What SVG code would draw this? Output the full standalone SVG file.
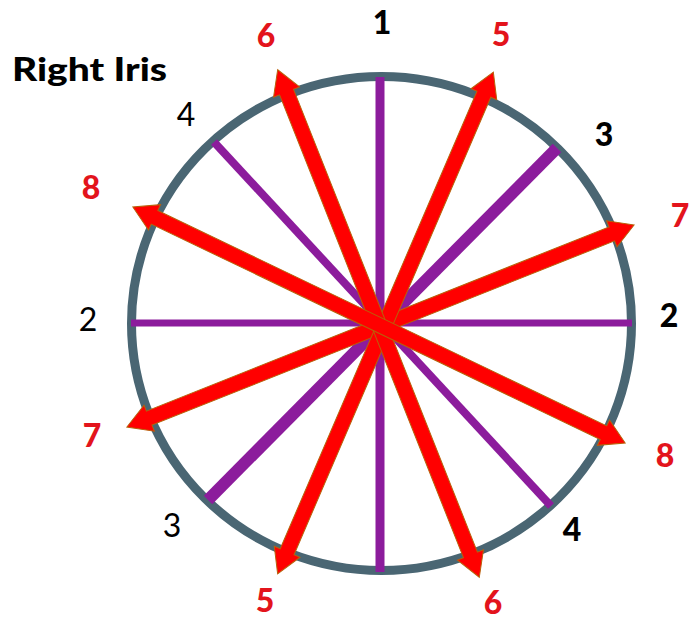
<svg xmlns="http://www.w3.org/2000/svg" width="690" height="620" viewBox="0 0 690 620">
<style>
.lbl{font-family:Lato,"Open Sans","DejaVu Sans",sans-serif;font-size:32px;text-anchor:middle}
.b{font-weight:900}
.red{fill:#e3141c;font-weight:900}
.blk{fill:#000}
.pur{stroke:#8c1c9c;stroke-linecap:butt}
.arr{fill:#ff0000;stroke:#b8620a;stroke-width:1;stroke-linejoin:miter}
</style>
<defs>
<polygon id="dbl" points="273,0 249,-14 249,-7.5 -249,-7.5 -249,-14 -273,0 -249,14 -249,7.5 249,7.5 249,14"/>
</defs>
<rect width="690" height="620" fill="#fff"/>
<g id="iris">
<ellipse cx="381.5" cy="323.5" rx="250" ry="247" fill="none" stroke="#4a6673" stroke-width="9"/>
</g>
<g id="connectors">
<line class="pur" x1="380" y1="77" x2="380" y2="572" stroke-width="9"/>
<line class="pur" x1="131" y1="323" x2="632" y2="323" stroke-width="7"/>
<line class="pur" x1="208" y1="500" x2="557" y2="148" stroke-width="12"/>
<line class="pur" x1="214" y1="142" x2="551" y2="506" stroke-width="8"/>
<use href="#dbl" class="arr" transform="translate(380.5,326) rotate(-21.72)"/>
<use href="#dbl" class="arr" transform="translate(385.5,323) rotate(113.27)"/>
<use href="#dbl" class="arr" transform="translate(378.5,323.5) rotate(68.33)"/>
<use href="#dbl" class="arr" transform="translate(379,325) rotate(25.63)"/>
</g>
<g id="title"><text class="lbl b" x="12" y="81" font-size="34" textLength="155" lengthAdjust="spacingAndGlyphs" style="text-anchor:start">Right Iris</text></g>
<g id="labels">
<text class="lbl b blk" x="382" y="34">1</text>
<text class="lbl red" x="266" y="47">6</text>
<text class="lbl red" x="501" y="46">5</text>
<text class="lbl b blk" x="604" y="146">3</text>
<text class="lbl red" x="680" y="227">7</text>
<text class="lbl b blk" x="669" y="327">2</text>
<text class="lbl red" x="665" y="467">8</text>
<text class="lbl b blk" x="572" y="541">4</text>
<text class="lbl red" x="493" y="614">6</text>
<text class="lbl red" x="265" y="612">5</text>
<text class="lbl blk" x="172" y="537">3</text>
<text class="lbl red" x="92" y="447">7</text>
<text class="lbl blk" x="88" y="331">2</text>
<text class="lbl red" x="91" y="199">8</text>
<text class="lbl blk" x="186" y="126">4</text>
</g>
</svg>
